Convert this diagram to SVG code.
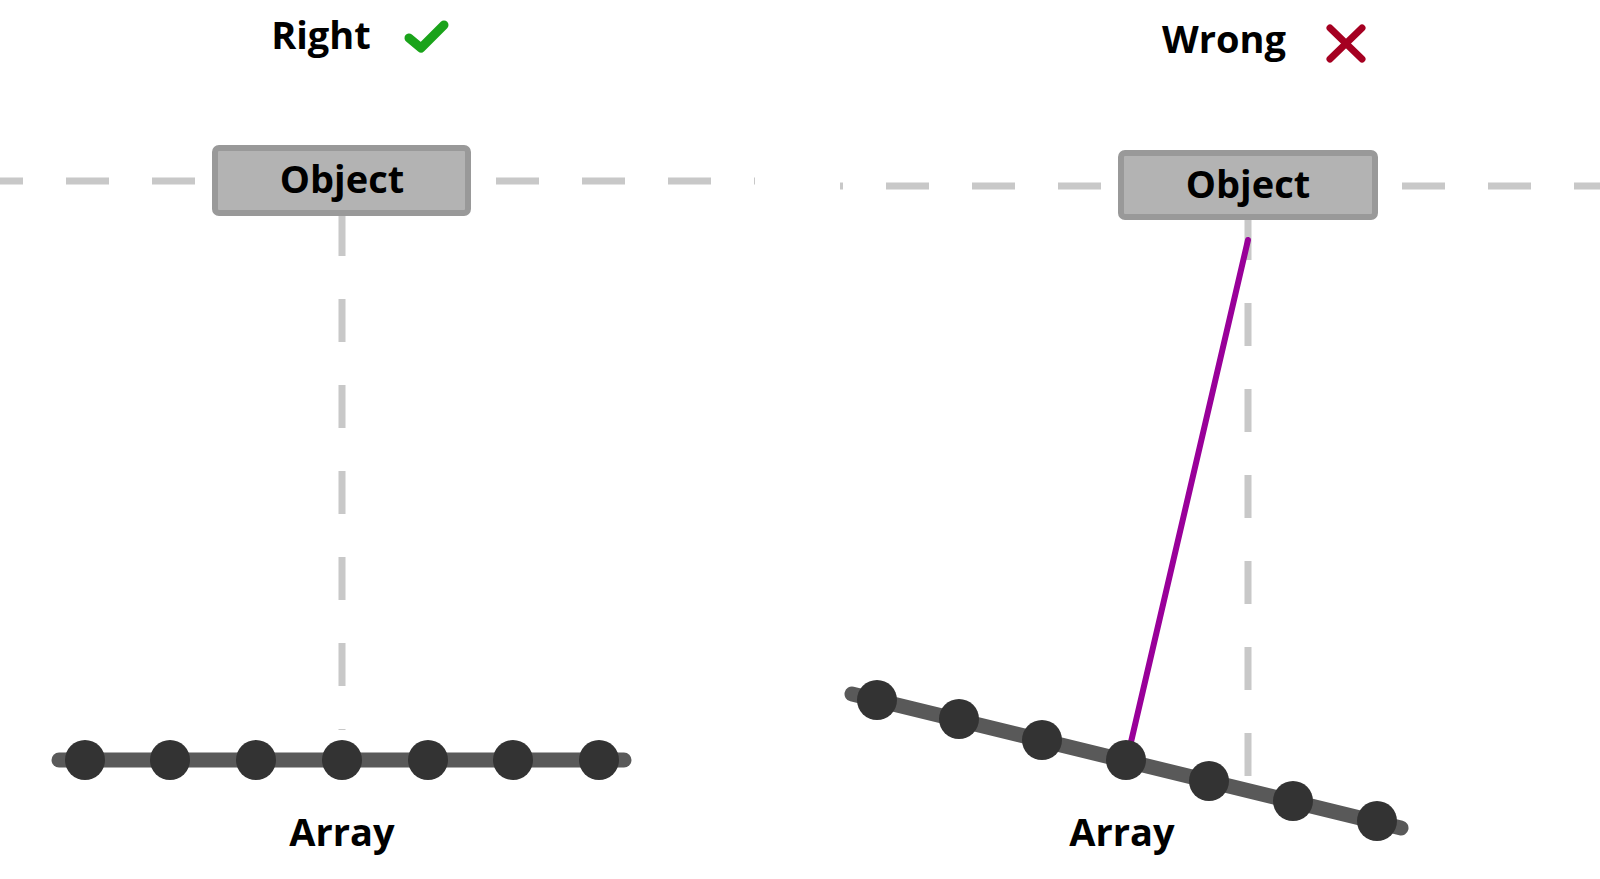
<svg xmlns="http://www.w3.org/2000/svg" width="1600" height="879" viewBox="0 0 1600 879">
<style>
.t{font-family:"Open Sans","Liberation Sans",sans-serif;font-weight:bold;font-size:38px;fill:#000;text-anchor:middle}
.d{stroke:#c8c8c8;stroke-width:7;stroke-dasharray:43 43;fill:none}
.box{fill:#b3b3b3;stroke:#999;stroke-width:6}
.arr{stroke:#595959;stroke-width:15;stroke-linecap:round}
.dot{fill:#333}
</style>
<rect width="1600" height="879" fill="#fff"/>
<g id="guides">
<line class="d" x1="-20" y1="181" x2="755" y2="181"/>
<line class="d" x1="840" y1="186" x2="843" y2="186"/>
<line class="d" x1="886" y1="186" x2="1600" y2="186"/>
<line class="d" x1="342" y1="213" x2="342" y2="730"/>
<line class="d" x1="1248" y1="217" x2="1248" y2="786"/>
</g>
<g id="connectors">
<line x1="1248" y1="240" x2="1131" y2="742" stroke="#990099" stroke-width="6" stroke-linecap="round"/>
</g>
<g id="right-object"><rect class="box" x="215" y="148" width="253" height="65" rx="4"/><text class="t" x="342" y="193">Object</text></g>
<g id="wrong-object"><rect class="box" x="1121" y="153" width="254" height="64" rx="4"/><text class="t" x="1248" y="198">Object</text></g>
<g id="right-array">
<line class="arr" x1="59" y1="760" x2="624" y2="760"/>
<circle class="dot" cx="85" cy="760" r="20"/><circle class="dot" cx="170" cy="760" r="20"/><circle class="dot" cx="256" cy="760" r="20"/><circle class="dot" cx="342" cy="760" r="20"/><circle class="dot" cx="428" cy="760" r="20"/><circle class="dot" cx="513" cy="760" r="20"/><circle class="dot" cx="599" cy="760" r="20"/>
<text class="t" x="342" y="846">Array</text>
</g>
<g id="wrong-array">
<line class="arr" x1="852" y1="694" x2="1401" y2="828"/>
<circle class="dot" cx="877" cy="700" r="20"/><circle class="dot" cx="959" cy="719" r="20"/><circle class="dot" cx="1042" cy="740" r="20"/><circle class="dot" cx="1126" cy="760" r="20"/><circle class="dot" cx="1209" cy="781" r="20"/><circle class="dot" cx="1293" cy="801" r="20"/><circle class="dot" cx="1377" cy="821" r="20"/>
<text class="t" x="1122" y="846">Array</text>
</g>
<g id="right-label"><text class="t" x="321" y="49">Right</text>
<polyline points="409,38 421,48 444,25" fill="none" stroke="#1aa31a" stroke-width="9" stroke-linecap="round" stroke-linejoin="round"/></g>
<g id="wrong-label"><text class="t" x="1224" y="53">Wrong</text>
<path d="M1330,28 L1362,59 M1362,28 L1330,59" stroke="#a50021" stroke-width="7" stroke-linecap="round"/></g>
</svg>
